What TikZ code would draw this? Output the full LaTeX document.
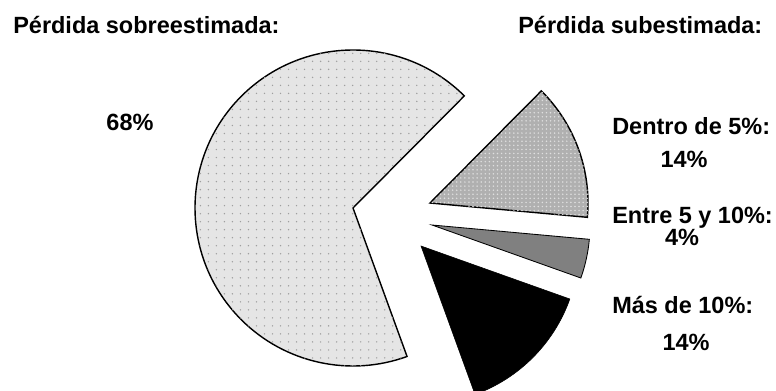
\documentclass[tikz,border=0pt]{standalone}
\usepackage{fontspec}
\setmainfont{Liberation Sans}
\usetikzlibrary{patterns.meta}
\tikzset{
    txt/.style = {font=\fontsize{16.7}{20}\selectfont\bfseries, inner sep=0pt},
    head/.style = {txt, anchor=base west},
    pct/.style = {txt, anchor=base},
    wedge/.style = {draw, line width=1pt, line join=miter},
    over/.style = {wedge, fill=gray!20,
        postaction={pattern={Dots[distance=5.7pt,radius=0.55pt]}, pattern color=gray!75}},
    near/.style = {wedge, fill=gray!62,
        postaction={pattern={Dots[distance=2.9pt,radius=0.6pt]}, pattern color=gray!25}},
    mid/.style = {draw, line width=0.6pt, fill=gray},
    far/.style = {draw, fill=black}
}

\begin{document}
\begin{tikzpicture}[x=0.025cm, y=0.025cm]
        \useasboundingbox (0,0) rectangle (776,390);
        \clip (0,0) rectangle (776,390);
        % apexes of the slices
        \coordinate (cover) at (353,182);
        \coordinate (cnear) at (430,187);
        \coordinate (cmid) at (432,165);
        \coordinate (cfar) at (421,144);
        \draw[over] (cover) -- ++(45.2:158) arc[start angle=45.2, end angle=290, radius=158] -- cycle;
        \draw[near] (cnear) -- ++(-5.2:158) arc[start angle=-5.2, end angle=45.2, radius=158] -- cycle;
        \draw[mid] (cmid) -- ++(-19.6:158) arc[start angle=-19.6, end angle=-5.2, radius=158] -- cycle;
        \draw[far] (cfar) -- ++(-70:158) arc[start angle=-70, end angle=-19.6, radius=158] -- cycle;
        % labels
        \node[head] (sobre) at (13,357) {Pérdida sobreestimada:};
        \node[head] (sub) at (518,357) {Pérdida subestimada:};
        \node[pct] (p68) at (130,260) {68\%};
        \node[head] (dentro) at (612,256) {Dentro de 5\%:};
        \node[pct] (p14a) at (684,223) {14\%};
        \node[head] (entre) at (612,167) {Entre 5 y 10\%:};
        \node[pct] (p4) at (682,145) {4\%};
        \node[head] (mas) at (612,77) {Más de 10\%:};
        \node[pct] (p14b) at (686,40) {14\%};
    \end{tikzpicture}
\end{document}
